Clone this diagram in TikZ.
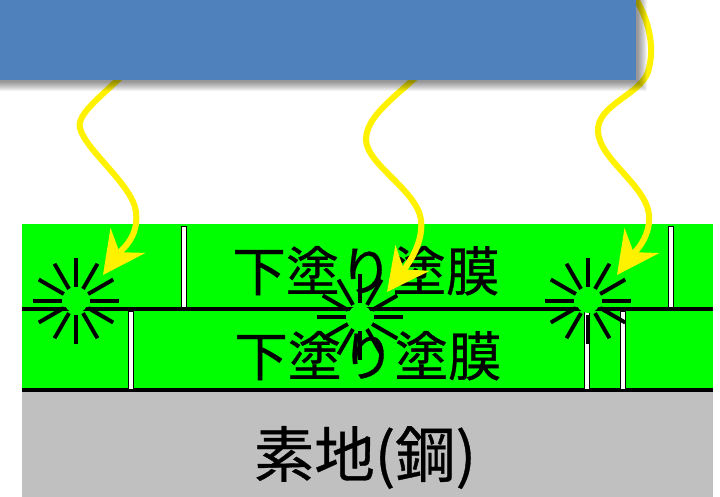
\documentclass[tikz,border=0pt]{standalone}
\usepackage{fontspec}
\newfontfamily\jpfont[FakeBold=0.6]{Noto Sans CJK JP}
\usetikzlibrary{arrows.meta}

\definecolor{lampblue}{HTML}{4F81BD}
\definecolor{coatgreen}{HTML}{00FF00}
\definecolor{steelgray}{HTML}{C0C0C0}

\tikzset{
  lightray/.style={yellow, line width=4.3pt,
    -{Stealth[length=30pt,width=30pt,inset=10pt]}},
  crack/.style={draw=black, fill=white, line width=0.6pt},
  layerline/.style={line width=2.2pt},
  coattext/.style={font=\jpfont\fontsize{38}{40}\selectfont,
    anchor=base, inner sep=0pt},
  spark/.pic={
    \fill[coatgreen] (0,0) circle (12);
    \foreach \a in {0,30,...,330}
      \draw[line width=2.8pt] (\a:14) -- (\a:43);
  }
}

\begin{document}
\begin{tikzpicture}[x=0.025cm, y=-0.025cm]
  \clip (0,0) rectangle (720,496);

  % coating layers and the steel underneath
  \fill[coatgreen] (22,224) rectangle (713,390);
  \fill[steelgray] (22,390) rectangle (713,500);
  \draw[layerline] (22,309) -- (713,309);
  \draw[layerline] (22,390) -- (713,390);

  % cracks
  \draw[crack] (181,226) rectangle (186,307);
  \draw[crack] (668,226) rectangle (673,307);
  \draw[crack] (128,311) rectangle (133,389);
  \draw[crack] (584,311) rectangle (589,389);
  \draw[crack] (620,311) rectangle (625,389);

  \node[coattext] (upper) at (366,291) {下塗り塗膜};
  \node[coattext] (lower) at (368,376) {下塗り塗膜};
  \node[coattext, font=\jpfont\fontsize{43}{45}\selectfont]
    (steel) at (365,477) {素地(鋼)};

  % damage points
  \pic at (76,301) {spark};
  \pic at (360,317) {spark};
  \pic at (588,301) {spark};

  % rays coming out of the lamp
  \coordinate (srcL) at (150,45);
  \coordinate (srcM) at (445,45);
  \coordinate (srcR) at (630,-10);
  \coordinate (hitL) at (103,275);
  \coordinate (hitM) at (387,292);
  \coordinate (hitR) at (617,275);

  \draw[lightray] (srcL) .. controls (120,85) and (75,110) .. (80,128)
    .. controls (85,150) and (133,185) .. (136,212)
    .. controls (139,238) and (121,250) .. (hitL);
  \draw[lightray] (srcM) .. controls (418,85) and (366,108) .. (366,140)
    .. controls (367,165) and (417,190) .. (421,220)
    .. controls (424,245) and (405,268) .. (hitM);
  \draw[lightray] (srcR) .. controls (648,15) and (656,45) .. (648,72)
    .. controls (640,95) and (596,105) .. (598,132)
    .. controls (600,160) and (646,185) .. (649,215)
    .. controls (651,240) and (630,257) .. (hitR);

  % lamp with its soft shadow
  \foreach \d in {0,...,9}
    \fill[black, opacity=0.05] (-20,-20) rectangle (638+\d,82+\d);
  \fill[lampblue] (-20,-20) rectangle (636,80);
\end{tikzpicture}
\end{document}
